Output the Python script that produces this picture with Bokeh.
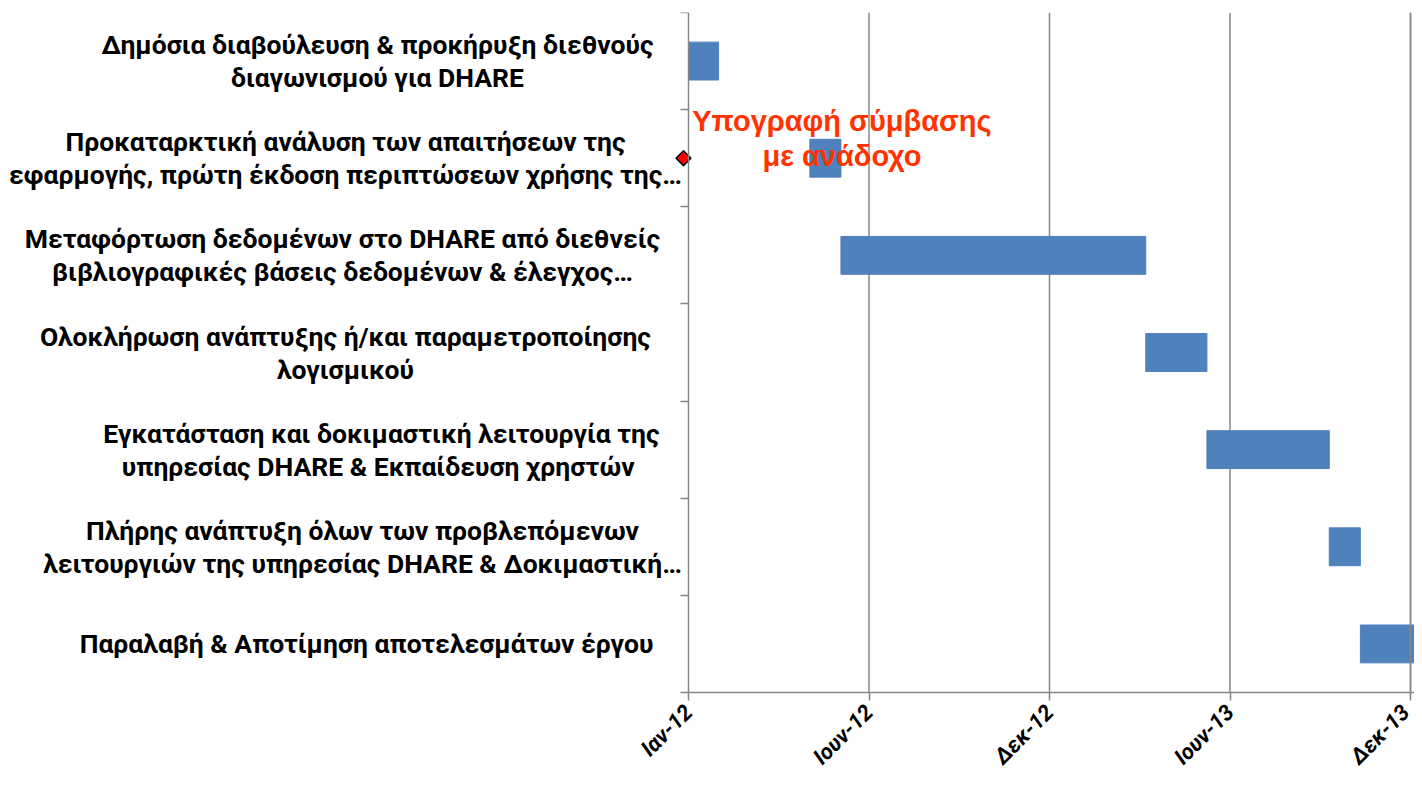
import math
import pandas as pd
from bokeh.plotting import figure
from bokeh.models import Range1d, FixedTicker, ColumnDataSource
from bokeh.core.properties import value
from bokeh.embed import file_html
from bokeh.resources import INLINE

# ---------------- data ----------------
task_lines = [
    ["Δημόσια διαβούλευση & προκήρυξη διεθνούς", "διαγωνισμού για DHARE"],
    ["Προκαταρκτική ανάλυση των απαιτήσεων της", "εφαρμογής, πρώτη έκδοση περιπτώσεων χρήσης της…"],
    ["Μεταφόρτωση δεδομένων στο DHARE από διεθνείς", "βιβλιογραφικές βάσεις δεδομένων & έλεγχος…"],
    ["Ολοκλήρωση ανάπτυξης ή/και παραμετροποίησης", "λογισμικού"],
    ["Εγκατάσταση και δοκιμαστική λειτουργία της", "υπηρεσίας DHARE &  Εκπαίδευση χρηστών"],
    ["Πλήρης ανάπτυξη όλων των προβλεπόμενων", "λειτουργιών της υπηρεσίας DHARE & Δοκιμαστική…"],
    ["Παραλαβή & Αποτίμηση αποτελεσμάτων έργου"],
]
start_dates = ["2012-01-01", "2012-05-01", "2012-06-01", "2013-04-01",
               "2013-06-01", "2013-10-01", "2013-11-01"]
end_dates = ["2012-01-31", "2012-06-01", "2013-04-01", "2013-06-01",
             "2013-10-01", "2013-11-01", "2013-12-31"]
milestone_date = "2011-12-27"
milestone_task = 1
milestone_text = ["Υπογραφή σύμβασης", "με ανάδοχο"]
milestone_text_date = "2012-06-02"
tick_dates = ["2012-01-01", "2012-06-29", "2012-12-26", "2013-06-24", "2013-12-21"]
tick_labels = ["Ιαν-12", "Ιουν-12", "Δεκ-12", "Ιουν-13", "Δεκ-13"]
axis_origin = "2012-01-01"

# ---------------- helpers ----------------
origin = pd.Timestamp(axis_origin)
def days(d):
    return (pd.Timestamp(d) - origin).days

n = len(task_lines)
row_y = [n - i - 0.5 for i in range(n)]
starts = [days(d) for d in start_dates]
ends = [days(d) for d in end_dates]
tick_days = [days(d) for d in tick_dates]

# ---------------- layout ----------------
W, H = 1414, 777
AXIS_X = 688            # canvas x of the date-axis origin
PLOT_TOP, PLOT_BOTTOM = 12, 692
ppd = 722.0 / 720.0     # pixels per day
px_per_row = (PLOT_BOTTOM - PLOT_TOP) / n
x_start = -AXIS_X / ppd
x_end = (W - AXIS_X) / ppd
y_lo = -(H - PLOT_BOTTOM) / px_per_row

AX_COL = "#868686"
GRID_COL = "#878787"

p = figure(width=W, height=H, output_backend="svg", toolbar_location=None,
           x_range=Range1d(x_start, x_end), y_range=Range1d(y_lo, n),
           min_border_left=0, min_border_right=0, min_border_top=PLOT_TOP,
           min_border_bottom=0)
p.outline_line_color = None
p.background_fill_color = "white"
p.border_fill_color = "white"
p.xgrid.visible = False
p.ygrid.visible = False

# x axis, drawn at the bottom of the task rows
xt = FixedTicker(ticks=tick_days, minor_ticks=[])
p.xaxis.fixed_location = 0
p.xaxis.bounds = (0, x_end)
p.xaxis.ticker = xt
p.xaxis.major_label_overrides = {d: lab for d, lab in zip(tick_days, tick_labels)}
p.xaxis.major_label_orientation = math.pi / 4
p.xaxis.major_label_text_font = "Roboto"
p.xaxis.major_label_text_font_style = "bold italic"
p.xaxis.major_label_text_font_size = "22px"
p.xaxis.major_label_text_color = "black"
p.xaxis.major_label_standoff = 8
p.xaxis.major_tick_in = 0
p.xaxis.major_tick_out = 8
p.xaxis.minor_tick_line_color = None
p.xaxis.axis_line_color = AX_COL
p.xaxis.axis_line_width = 1.5
p.xaxis.major_tick_line_color = AX_COL
p.xaxis.major_tick_line_width = 1.5

# y axis at the date origin: only boundary tick marks
p.yaxis.fixed_location = 0
p.yaxis.bounds = (0, n)
p.yaxis.ticker = FixedTicker(ticks=[], minor_ticks=list(range(n + 1)))
p.yaxis.minor_tick_in = 0
p.yaxis.minor_tick_out = 8
p.yaxis.minor_tick_line_color = AX_COL
p.yaxis.minor_tick_line_width = 1.5
p.yaxis.major_tick_line_color = None
p.yaxis.major_label_text_font_size = "0px"
p.yaxis.axis_line_color = AX_COL
p.yaxis.axis_line_width = 1.5

# vertical gridlines at the date ticks (behind the bars)
p.segment(x0=tick_days[1:], y0=0, x1=tick_days[1:], y1=n,
          line_color=GRID_COL, line_width=1.5)

# bars
p.hbar(y=row_y, left=starts, right=ends, height=0.39,
       fill_color="#4F81BD", line_color="#4F81BD", line_width=1)

# right border line at the last tick, drawn over the bars
p.segment(x0=tick_days[-1:], y0=0, x1=tick_days[-1:], y1=n,
          line_color=GRID_COL, line_width=1.5)

# category labels (centred lines in a right-aligned block)
label_centres_px = [377, 345, 342, 345, 381, 362, 366]   # canvas x of block centre
line_gap = 33 / px_per_row
lx, ly, lt = [], [], []
for i, lines in enumerate(task_lines):
    cx = (label_centres_px[i] - AXIS_X) / ppd
    k = len(lines)
    for j, txt in enumerate(lines):
        lx.append(cx)
        ly.append(row_y[i] + ((k - 1) / 2 - j) * line_gap)
        lt.append(txt)
p.text(x="x", y="y", text="t", source=ColumnDataSource(dict(x=lx, y=ly, t=lt)),
       text_font=value("Roboto"), text_font_style="bold", text_font_size="26.5px",
       text_color="black", text_align="center", text_baseline="middle")

# milestone
mx = days(milestone_date)
my = row_y[milestone_task]
mt_x = days(milestone_text_date)
p.scatter(x=[mx], y=[my], marker="square", angle=math.pi / 4, size=10.5,
          fill_color="#FF0000", line_color="black", line_width=1.5)
mtx = [mt_x] * len(milestone_text)
mty = [my + 0.02 + (len(milestone_text) - 1 - j) * 0.36 for j in range(len(milestone_text))]
p.text(x=mtx, y=mty, text=milestone_text, text_font=value("Liberation Sans"),
       text_font_style="bold", text_font_size="29px", text_color="#FF3300",
       text_align="center", text_baseline="middle")

open("out.html", "w").write(file_html(p, INLINE))
